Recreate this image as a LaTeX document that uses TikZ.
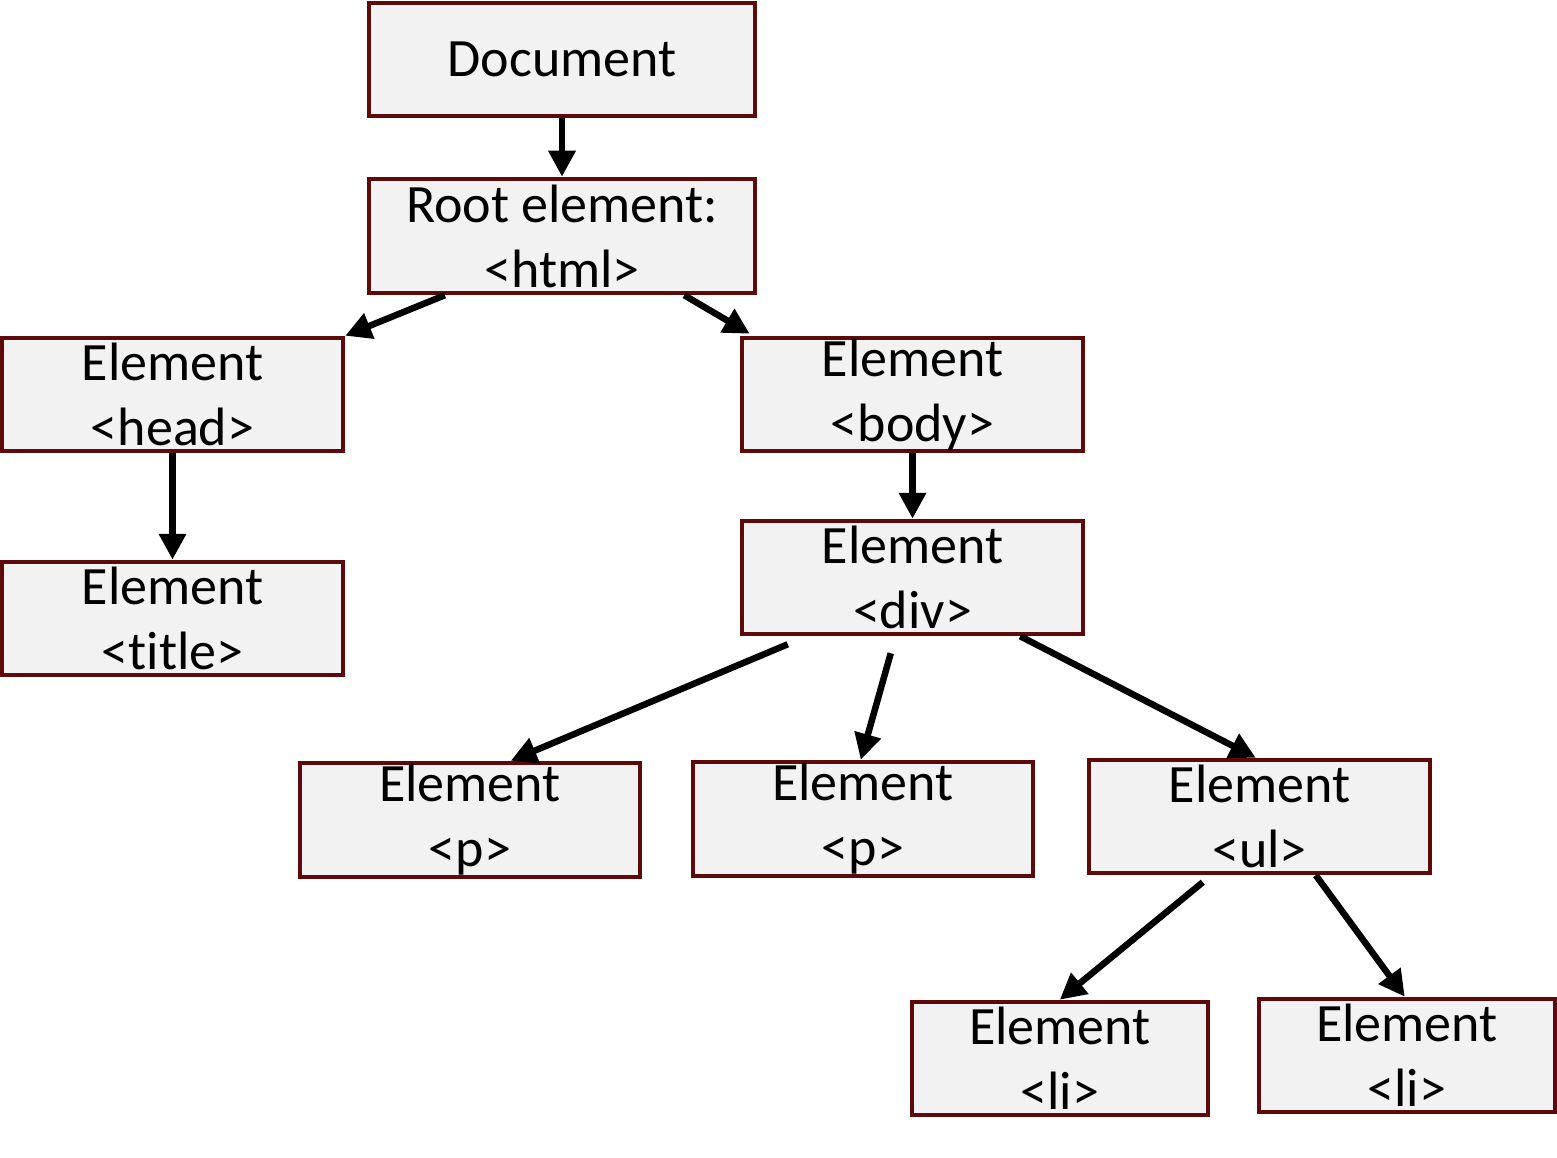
\documentclass[tikz,border=0pt]{standalone}
\usepackage{fontspec}
\setmainfont[Ligatures=NoCommon]{Carlito}
\usetikzlibrary{arrows.meta}
\definecolor{boxborder}{HTML}{5E0A0A}
\definecolor{boxfill}{HTML}{F2F2F2}
\begin{document}
\begin{tikzpicture}[x=1pt,y=-1pt,
  box/.style={draw=boxborder,fill=boxfill,line width=4.5pt,inner sep=0pt,
    align=center,font=\fontsize{54}{65}\selectfont},
  conn/.style={line width=6.5pt,-{Triangle[length=26pt,width=26pt]}}]
\useasboundingbox (0,0) rectangle (1557,1158);
\newcommand{\bx}[6]{\node[box,minimum width=#4-#2,minimum height=#5-#3] (#1) at ({(#2+#4)/2},{(#3+#5)/2}) {#6};}
\bx{doc}{369}{3}{755}{116}{Document}
\bx{root}{369}{179}{755}{293}{Root element:\\<html>}
\bx{head}{2}{338}{343}{451}{Element\\<head>}
\bx{body}{742}{338}{1083}{451}{Element\\<body>}
\bx{title}{2}{562}{343}{675}{Element\\<title>}
\bx{div}{742}{521}{1083}{634}{Element\\<div>}
\bx{pa}{300}{763}{640}{877}{Element\\<p>}
\bx{pb}{693}{762}{1033}{876}{Element\\<p>}
\bx{ul}{1089}{760}{1430}{873}{Element\\<ul>}
\bx{lia}{912}{1002}{1208}{1115}{Element\\<li>}
\bx{lib}{1259}{999}{1555}{1112}{Element\\<li>}
\draw[conn] (doc.south) -- (root.north);
\draw[conn] ([xshift=78pt]root.south west) -- (head.north east);
\draw[conn] ([xshift=-73pt]root.south east) -- ([xshift=10pt,yshift=2pt]body.north west);
\draw[conn] (head.south) -- (title.north);
\draw[conn] (body.south) -- (div.north);
\draw[conn] ([xshift=48pt,yshift=-8pt]div.south west) -- ([xshift=213pt]pa.north west);
\draw[conn] ([xshift=151pt,yshift=-17pt]div.south west) -- ([xshift=170pt]pb.north west);
\draw[conn] ([xshift=-65pt]div.south east) -- ([xshift=169pt]ul.north west);
\draw[conn] ([xshift=116pt,yshift=-7pt]ul.south west) -- ([xshift=150pt]lia.north west);
\draw[conn] ([xshift=229pt]ul.south west) -- ([xshift=148pt]lib.north west);
\end{tikzpicture}
\end{document}
